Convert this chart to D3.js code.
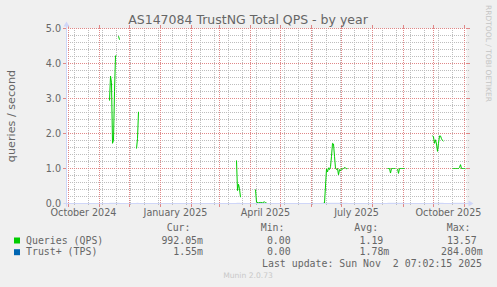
<!DOCTYPE html>
<html>
<head>
<meta charset="utf-8">
<script src="https://cdn.jsdelivr.net/npm/d3@7"></script>
<style>
  body { margin: 0; background: #f0f0f0; }
  svg text { fill: #666666; }
</style>
</head>
<body>
<div id="chart"></div>
<script>
// data
var days = [
  "2024-11-11","2024-11-12","2024-11-13","2024-11-14","2024-11-15","2024-11-16","2024-11-17","2024-11-18","2024-11-19","2024-11-20","2024-11-21","2024-11-22",
  "2024-12-08","2024-12-09","2024-12-10","2024-12-11",
  "2025-03-18","2025-03-19","2025-03-20","2025-03-21","2025-03-22","2025-03-23",
  "2025-04-06","2025-04-07","2025-04-09","2025-04-11","2025-04-13","2025-04-15","2025-04-16","2025-04-17","2025-04-18",
  "2025-06-10","2025-06-12","2025-06-14","2025-06-15","2025-06-16","2025-06-17","2025-06-18","2025-06-19","2025-06-20","2025-06-21",
  "2025-06-22","2025-06-23","2025-06-24","2025-06-25","2025-06-26","2025-06-27","2025-06-28","2025-06-29","2025-06-30","2025-07-01",
  "2025-07-02","2025-07-03","2025-07-04","2025-07-05","2025-07-06","2025-07-07","2025-07-08",
  "2025-08-16","2025-08-17","2025-08-18","2025-08-19","2025-08-20","2025-08-21","2025-08-22","2025-08-23","2025-08-24","2025-08-25",
  "2025-08-26","2025-08-27","2025-08-28","2025-08-29","2025-08-30","2025-08-31","2025-09-01","2025-09-02","2025-09-03",
  "2025-09-30","2025-10-01","2025-10-02","2025-10-03","2025-10-04","2025-10-05","2025-10-06","2025-10-07","2025-10-08","2025-10-09",
  "2025-10-10","2025-10-11","2025-10-12",
  "2025-10-20","2025-10-21","2025-10-22","2025-10-23","2025-10-24","2025-10-25","2025-10-26","2025-10-27","2025-10-28","2025-10-29",
  "2025-10-30","2025-10-31","2025-11-01","2025-11-02"
];
var qps = [
  2.94, 3.64, 3.45, 1.72, 1.80, 3.20, 4.22, 4.22, null, 4.78, 4.68, null,
  1.57, 1.85, 2.62, null,
  1.23, 0.37, 0.55, 0.42, 0.18, null,
  0.40, 0.04, 0.02, 0.03, 0.02, 0.05, 0.02, 0.02, null,
  0.00, 0.00, 0.01, 0.50, 0.99, 0.90, 1.02, 0.97, 1.05, 1.35,
  1.72, 1.70, 1.35, 1.00, 0.97, 1.00, 0.82, 0.97, 0.93, 1.00,
  0.98, 1.00, 1.03, 1.02, 0.99, 1.00, null,
  1.00, 1.00, 1.00, 0.87, 1.00, 1.00, 1.00, 1.00, 1.00, null,
  0.99, 0.86, 1.00, 1.00, 1.00, 1.00, 1.00, 1.00, null,
  1.94, 1.90, 1.72, 1.82, 1.70, 1.49, 1.72, 1.93, 1.93, 1.85,
  1.80, 1.78, null,
  1.00, 1.00, 1.00, 1.00, 1.00, 1.00, 1.00, 1.03, 1.11, 1.00,
  1.00, 1.00, 1.00, 0.99
];
var tps = [
  0.002, 0.002, 0.002, 0.002, 0.002, 0.002, 0.002, 0.002, 0.002, 0.002, 0.002, null,
  0.002, 0.002, 0.002, null,
  0.002, 0.002, 0.002, 0.002, 0.002, null,
  0.002, 0.002, 0.002, 0.002, 0.002, 0.002, 0.002, 0.002, null,
  0.002, 0.002, 0.002, 0.002, 0.002, 0.002, 0.002, 0.002, 0.002, 0.002,
  0.002, 0.002, 0.002, 0.002, 0.002, 0.002, 0.002, 0.002, 0.002, 0.002,
  0.002, 0.002, 0.002, 0.002, 0.002, 0.002, null,
  0.002, 0.002, 0.002, 0.002, 0.002, 0.002, 0.002, 0.002, 0.002, 0.002,
  0.002, 0.002, 0.002, 0.002, 0.002, 0.002, 0.002, 0.002, null,
  0.002, 0.002, 0.002, 0.002, 0.002, 0.002, 0.002, 0.002, 0.002, 0.002,
  0.002, 0.002, null,
  0.002, 0.002, 0.002, 0.002, 0.002, 0.002, 0.002, 0.002, 0.002, 0.002,
  0.002, 0.002, 0.002, 0.002
];
var yTicks = [0, 1, 2, 3, 4, 5];
var xLabelMonths = ["2024-10-01", "2025-01-01", "2025-04-01", "2025-07-01", "2025-10-01"];
var timeSpan = ["2024-09-29", "2025-11-03"];

var legendRows = [
  { name: "Queries (QPS)", color: "#00cc00", cur: "992.05m", min: "0.00", avg: "1.19", max: "13.57" },
  { name: "Trust+ (TPS)", color: "#0066b3", cur: "1.55m", min: "0.00", avg: "1.78m", max: "284.00m" }
];

var W = 497, H = 287;
var L = 66.5, R = 466.5, T = 28.5, B = 203.5;
var parse = d3.utcParse("%Y-%m-%d");

var svg = d3.select("#chart").append("svg")
  .attr("width", W).attr("height", H)
  .style("font-family", "'DejaVu Sans', sans-serif");

svg.append("rect").attr("width", W).attr("height", H).attr("fill", "#f0f0f0");
svg.append("rect").attr("x", L).attr("y", T).attr("width", R - L).attr("height", B - T).attr("fill", "#ffffff");

var x = d3.scaleUtc().domain(timeSpan.map(parse)).range([L, R]);
var y = d3.scaleLinear().domain([0, 5]).range([B, T]);

// dotted grid drawn as 1px strips filled with an on/off pixel pattern
var minorCol = "#bdbdbd", majorCol = "#e08888";
var defs = svg.append("defs");
[["hMinor", 2, 1, minorCol], ["hMajor", 2, 1, majorCol], ["vMinor", 1, 2, minorCol], ["vMajor", 1, 2, majorCol]]
  .forEach(function (p) {
    var pat = defs.append("pattern").attr("id", p[0]).attr("patternUnits", "userSpaceOnUse")
      .attr("x", 0).attr("y", 0).attr("width", p[1]).attr("height", p[2]);
    pat.append("rect").attr("width", 1).attr("height", 1).attr("fill", p[3]);
  });
var grid = svg.append("g").attr("shape-rendering", "crispEdges");
function hStrip(row, x1, x2, fill) {
  grid.append("rect").attr("x", x1).attr("y", row).attr("width", x2 - x1).attr("height", 1).attr("fill", fill);
}
function vStrip(col, y1, y2, fill) {
  grid.append("rect").attr("x", col).attr("y", y1).attr("width", 1).attr("height", y2 - y1).attr("fill", fill);
}

d3.range(0, 5.01, 0.2).forEach(function (v) {
  if (Math.abs(v - Math.round(v)) < 1e-6) return;
  hStrip(Math.round(y(v) - 0.5), 65, 469, "url(#hMinor)");
});
d3.utcMonday.every(1).range(parse("2024-10-07"), parse("2025-11-03"))
  .filter(function (d, i) { return i % 2 === 0; })
  .forEach(function (d) {
    vStrip(Math.round(x(d) - 0.5), 27, 206, "url(#vMinor)");
  });
yTicks.forEach(function (v) {
  if (v === 0) return;
  var row = Math.round(y(v) - 0.5);
  hStrip(row, 67, 467, "url(#hMajor)");
  hStrip(row, 63, 67, majorCol);
  hStrip(row, 467, 470, majorCol);
});
d3.utcMonth.range(parse("2024-10-01"), parse("2025-11-03")).forEach(function (d) {
  var col = Math.round(x(d) - 0.5);
  vStrip(col, 28, 204, "url(#vMajor)");
  vStrip(col, 204, 207, majorCol);
  vStrip(col, 25, 28, majorCol);
});

// series
var rows = days.map(function (d, i) { return { t: parse(d), q: qps[i], p: tps[i] }; });
var lineQ = d3.line().defined(function (d) { return d.q !== null; })
  .x(function (d) { return x(d.t); }).y(function (d) { return y(d.q); });
var lineP = d3.line().defined(function (d) { return d.p !== null; })
  .x(function (d) { return x(d.t); }).y(function (d) { return y(d.p); });
svg.append("path").datum(rows).attr("d", lineQ).attr("fill", "none").attr("stroke", "#00cc00").attr("stroke-width", 1);
svg.append("path").datum(rows).attr("d", lineP).attr("fill", "none").attr("stroke", "#0066b3").attr("stroke-width", 1).attr("opacity", 0.5);

// axes with arrows
var axisCol = "#cfd6f8";
svg.append("line").attr("x1", L - 3).attr("x2", R + 4).attr("y1", B).attr("y2", B).attr("stroke", axisCol);
svg.append("line").attr("x1", L).attr("x2", L).attr("y1", B + 3).attr("y2", T - 4).attr("stroke", axisCol);
svg.append("path").attr("d", "M" + (R + 2) + "," + (B - 3) + "L" + (R + 7) + "," + B + "L" + (R + 2) + "," + (B + 3) + "Z").attr("fill", axisCol);
svg.append("path").attr("d", "M" + (L - 3) + "," + (T - 2) + "L" + L + "," + (T - 7) + "L" + (L + 3) + "," + (T - 2) + "Z").attr("fill", axisCol);

// tick labels
svg.selectAll("text.ylab").data(yTicks).enter().append("text")
  .attr("x", 61).attr("y", function (v) { return y(v) + 3.5; })
  .attr("text-anchor", "end").style("font-size", "9.6px")
  .text(function (v) { return d3.format(".1f")(v); });
var fmtMonth = d3.utcFormat("%B %Y");
svg.selectAll("text.xlab").data(xLabelMonths).enter().append("text")
  .attr("x", function (d) { return x(d3.utcDay.offset(parse(d), 15)); }).attr("y", 216)
  .attr("text-anchor", "middle").style("font-size", "9.6px")
  .text(function (d) { return fmtMonth(parse(d)); });

// title and unit label
svg.append("text").attr("x", 248).attr("y", 24).attr("text-anchor", "middle")
  .style("font-size", "12.5px").text("AS147084 TrustNG Total QPS - by year");
svg.append("text").attr("transform", "translate(15,116) rotate(-90)").attr("text-anchor", "middle")
  .style("font-size", "11.2px").text("queries / second");

// watermarks
svg.append("text").attr("transform", "translate(486,5) rotate(90)")
  .attr("textLength", 97).attr("lengthAdjust", "spacingAndGlyphs")
  .style("font-size", "7.4px").style("fill", "#c4c4c4").text("RRDTOOL / TOBI OETIKER");
svg.append("text").attr("x", 248).attr("y", 278).attr("text-anchor", "middle")
  .style("font-size", "7.6px").style("fill", "#c8c8c8").text("Munin 2.0.73");

// legend
var leg = svg.append("g").style("font-family", "'DejaVu Sans Mono', monospace").style("font-size", "9.9px");
[["Cur:", 166.7], ["Min:", 260.7], ["Avg:", 354.3], ["Max:", 446.7]].forEach(function (h) {
  leg.append("text").attr("x", h[1]).attr("y", 231).text(h[0]);
});
legendRows.forEach(function (r, i) {
  var by = 243.5 + i * 11.7;
  leg.append("rect").attr("x", 14).attr("y", by - 6).attr("width", 6).attr("height", 6).attr("fill", r.color);
  leg.append("text").attr("x", 26).attr("y", by).text(r.name);
  // values are right-aligned on the digits, an SI suffix hangs one column to the right
  [["cur", 197], ["min", 290.7], ["avg", 383.3], ["max", 476.7]].forEach(function (c) {
    var s = r[c[0]], hasUnit = /[a-zA-Z]$/.test(s);
    leg.append("text").attr("x", c[1] + (hasUnit ? 6 : 0)).attr("y", by)
      .attr("text-anchor", "end").text(s);
  });
});
leg.append("text").attr("x", 482).attr("y", 266.5).attr("text-anchor", "end")
  .attr("xml:space", "preserve").style("white-space", "pre")
  .text("Last update: Sun Nov  2 07:02:15 2025");
</script>
</body>
</html>
